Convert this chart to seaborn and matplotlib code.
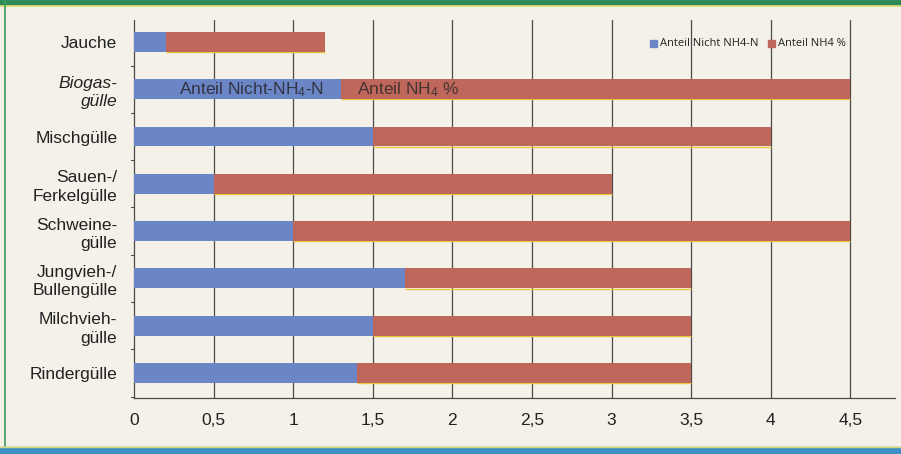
import matplotlib
matplotlib.use("Agg")
import matplotlib.pyplot as plt
from matplotlib.lines import Line2D
from matplotlib.patches import Rectangle
import seaborn as sns
import pandas as pd

# Gülle-Arten und Stickstoffanteile (kg/m³)
categories = ["Jauche", "Biogas-\ngülle", "Mischgülle", "Sauen-/\nFerkelgülle",
              "Schweine-\ngülle", "Jungvieh-/\nBullengülle", "Milchvieh-\ngülle", "Rindergülle"]
nicht_nh4 = [0.2, 1.3, 1.5, 0.5, 1.0, 1.7, 1.5, 1.4]
nh4 = [1.0, 3.2, 2.5, 2.5, 3.5, 1.8, 2.0, 2.1]
x_ticks = [0, 0.5, 1, 1.5, 2, 2.5, 3, 3.5, 4, 4.5]

totals = [a + b for a, b in zip(nicht_nh4, nh4)]
df = pd.DataFrame({"cat": categories, "blue": nicht_nh4, "total": totals})

BG = "#f4f1e8"
BLUE = "#6b86c6"
RED = "#c0675b"
GRID = "#4a4a4a"

sns.set_theme(style="white")
plt.rcParams["font.family"] = ["Liberation Sans", "DejaVu Sans"]
plt.rcParams["mathtext.fontset"] = "custom"
plt.rcParams["mathtext.rm"] = "Liberation Sans"
plt.rcParams["mathtext.it"] = "Liberation Sans:italic"

fig = plt.figure(figsize=(9.01, 4.54), dpi=100, facecolor=BG)
ax = fig.add_axes([134 / 901, 1 - 398 / 454, (895 - 134) / 901, (398 - 20) / 454])
ax.set_facecolor(BG)

for xv in x_ticks[1:]:
    ax.axvline(xv, color=GRID, lw=0.9, zorder=0)

sns.barplot(data=df, x="total", y="cat", color=RED, width=0.42, saturation=1,
            orient="h", ax=ax, zorder=2, linewidth=0, edgecolor="none")
sns.barplot(data=df, x="blue", y="cat", color=BLUE, width=0.42, saturation=1,
            orient="h", ax=ax, zorder=3, linewidth=0, edgecolor="none")

# thin yellow rim under the NH4 segments
for i, (b, t) in enumerate(zip(nicht_nh4, totals)):
    ax.plot([b, t], [i + 0.215, i + 0.215], color="#e8c640", lw=1.0, zorder=1.5,
            solid_capstyle="butt")

ax.set_xlim(0, 4.78)
ax.set_ylim(7.53, -0.465)
ax.set_xlabel("")
ax.set_ylabel("")
ax.set_xticks(x_ticks)
ax.set_xticklabels([f"{v:g}".replace(".", ",") for v in x_ticks], fontsize=12.5, color="#222222")
ax.tick_params(axis="x", length=0, pad=11)
ax.tick_params(axis="y", length=0, pad=12)
ax.set_yticklabels(categories, fontsize=12.5, color="#222222", linespacing=1.3, ha="right")
ax.get_yticklabels()[1].set_style("italic")

for s in ["top", "right"]:
    ax.spines[s].set_visible(False)
for s in ["left", "bottom"]:
    ax.spines[s].set_color(GRID)
    ax.spines[s].set_linewidth(0.9)

# category boundary marks on the y axis
for i in range(8):
    ax.plot([-0.02, 0], [i + 0.5, i + 0.5], color=GRID, lw=0.8, clip_on=False)

# labels inside the Biogasgülle bar
ax.text(0.74, 1.0, "Anteil Nicht-NH$_4$-N", ha="center", va="center", fontsize=12.5,
        color="#333344", zorder=4)
ax.text(1.72, 1.0, "Anteil NH$_4$ %", ha="center", va="center", fontsize=12.5,
        color="#443333", zorder=4)

# legend
leg_y = 1 - 43 / 454
fig.patches.append(Rectangle((650 / 901, leg_y - 0.009), 7 / 901, 7 / 454,
                             transform=fig.transFigure, color=BLUE))
fig.text(660 / 901, leg_y, "Anteil Nicht NH4-N", fontsize=8, va="center",
         family=["Open Sans", "DejaVu Sans"], color="#222222")
fig.patches.append(Rectangle((768 / 901, leg_y - 0.009), 7 / 901, 7 / 454,
                             transform=fig.transFigure, color=RED))
fig.text(778 / 901, leg_y, "Anteil NH4 %", fontsize=8, va="center",
         family=["Open Sans", "DejaVu Sans"], color="#222222")

# page frame: green top band with yellow edge, green left rule, blue bottom band
fig.patches.append(Rectangle((0, 1 - 5 / 454), 1, 5 / 454, transform=fig.transFigure,
                             color="#2e8b57"))
fig.add_artist(Line2D([0, 1], [1 - 6 / 454, 1 - 6 / 454], transform=fig.transFigure,
                      color="#e6e070", lw=1.2))
fig.add_artist(Line2D([5 / 901, 5 / 901], [8 / 454, 1], transform=fig.transFigure,
                      color="#3a9a60", lw=1.2))
fig.patches.append(Rectangle((0, 0), 1, 7 / 454, transform=fig.transFigure,
                             color="#3d8fc4"))
fig.add_artist(Line2D([0, 1], [7.5 / 454, 7.5 / 454], transform=fig.transFigure,
                      color="#d8d870", lw=1.0))

fig.savefig("out.png", dpi=100, facecolor=BG)
